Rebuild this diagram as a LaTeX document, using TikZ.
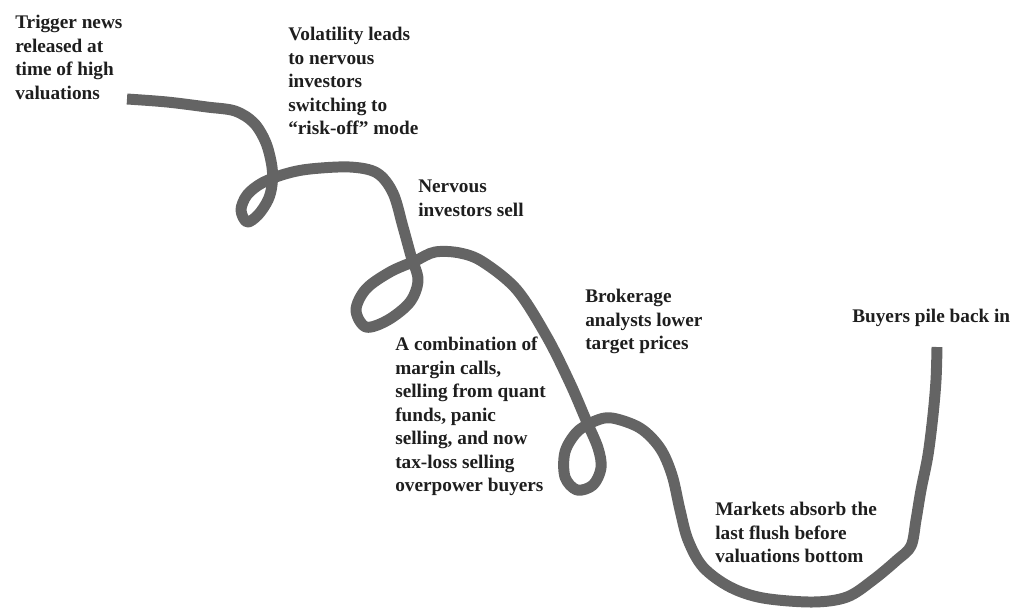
\documentclass[tikz,border=0pt]{standalone}
\usepackage{fontspec}
\setmainfont{Liberation Serif}
\usepackage{xcolor}
\usepackage{tikz}
\usetikzlibrary{positioning}
\definecolor{ink}{RGB}{30, 30, 30}
\definecolor{rope}{RGB}{100, 100, 100}
\tikzstyle{note} = [anchor=north west, inner sep=0pt, align=left, text=ink, font=\bfseries\fontsize{13.7}{16.7}\selectfont]
\tikzstyle{rope} = [line width=7.8pt, color=rope, line join=round, line cap=butt]

\begin{document}
\begin{tikzpicture}[x=0.025cm, y=-0.025cm]
    \useasboundingbox (0,0) rectangle (1013,608);

    % Labels
    \node (trigger) [note] at (15,15) {Trigger news\\released at\\time of high\\valuations};
    \node (volatility) [note] at (288,27) {Volatility leads\\to nervous\\investors\\switching to\\“risk-off” mode};
    \node (nervous) [note] at (418,180) {Nervous\\investors sell};
    \node (brokerage) [note] at (585,289) {Brokerage\\analysts lower\\target prices};
    \node (combination) [note] at (395,337) {A combination of\\margin calls,\\selling from quant\\funds, panic\\selling, and now\\tax-loss selling\\overpower buyers};
    \node (buyers) [note] at (852,309) {Buyers pile back in};
    \node (markets) [note] at (715,502) {Markets absorb the\\last flush before\\valuations bottom};

    % Curve
    \draw [rope] plot[smooth, tension=0.55] coordinates {
        (127,99) (167,102) (207,107) (235,111) (254,123) (266,143) (272,167)
        (272,185) (268,200) (258,215) (247,222) (241,210) (247,195) (262,183)
        (285,174) (310,169) (350,167) (377,173) (393,193) (403,227) (411,256)
        (418,280) (410,302) (388,320) (366,327) (356,310) (366,289) (390,272)
        (415,261) (435,252) (460,253) (483,262) (517,290) (547,337) (570,383)
        (586,420) (598,448) (601,468) (593,485) (577,490) (565,477) (565,452)
        (577,432) (595,421) (612,418) (640,428) (660,448) (672,475) (680,510)
        (688,540) (703,567) (730,587) (763,598) (813,602) (847,597) (873,580)
        (897,560) (911,546) (916,520) (921,490) (928,455) (933,415) (936,380)
        (937,347)};
\end{tikzpicture}
\end{document}
